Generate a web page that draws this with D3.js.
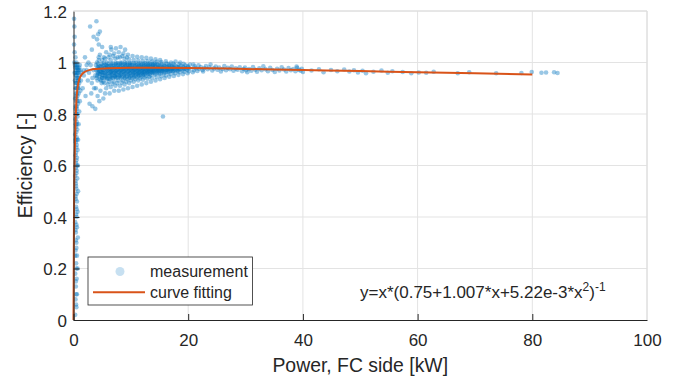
<!DOCTYPE html>
<html>
<head>
<meta charset="utf-8">
<script src="https://cdn.jsdelivr.net/npm/d3@7"></script>
<style>
  html, body { margin: 0; padding: 0; background: #ffffff; }
  svg { display: block; }
  text { font-family: "Liberation Sans", Arial, Helvetica, sans-serif; fill: #262626; }
</style>
</head>
<body>
<svg id="chart" width="686" height="379"></svg>
<script>
// ---------- data ----------
const xTicks = [0, 20, 40, 60, 80, 100];
const xTickLabels = ["0", "20", "40", "60", "80", "100"];
const yTicks = [0, 0.2, 0.4, 0.6, 0.8, 1, 1.2];
const yTickLabels = ["0", "0.2", "0.4", "0.6", "0.8", "1", "1.2"];

const xLabel = "Power, FC side [kW]";
const yLabel = "Efficiency [-]";
const legendLabels = ["measurement", "curve fitting"];

// curve fitting
const fitX = [0, 0.05, 0.1, 0.2, 0.3, 0.5, 0.7, 1.0, 1.5, 2, 3, 4, 6, 10, 20, 30, 40, 50, 60, 70, 80];
const fitY = [0, 0.25, 0.45, 0.62, 0.72, 0.85, 0.9, 0.935, 0.955, 0.964, 0.972, 0.975, 0.978, 0.98, 0.979, 0.975, 0.971, 0.967, 0.962, 0.958, 0.953];

// measurement points: low-power vertical strip
const measStrip = [
[0.3,0.02],[0.5,0.05],[0.35,0.08],[0.6,0.1],[0.45,0.1],[0.4,0.13],[0.55,0.16],[0.3,0.18],[0.7,0.2],[0.5,0.2],[0.45,0.22],[0.6,0.25],
[0.35,0.27],[0.5,0.3],[0.75,0.32],[0.4,0.31],[0.4,0.34],[0.6,0.36],[0.3,0.38],[0.55,0.4],[0.7,0.42],[0.55,0.43],[0.45,0.44],[0.6,0.46],
[0.35,0.48],[0.8,0.5],[0.5,0.51],[0.45,0.52],[0.4,0.53],[0.65,0.55],[0.3,0.56],[0.55,0.58],[0.75,0.6],[0.45,0.61],[0.5,0.62],[0.6,0.63],
[0.35,0.64],[0.7,0.66],[0.5,0.67],[0.4,0.69],[0.8,0.7],[0.6,0.7],[0.55,0.71],[0.3,0.72],[0.65,0.74],[0.45,0.75],[0.9,0.76],[0.55,0.77],
[0.35,0.78],[0.7,0.79],[0.5,0.8],[0.45,0.8],[1.0,0.81],[0.6,0.82],[0.4,0.83],[0.8,0.84],[0.5,0.85],[1.1,0.85],[0.3,0.86],[0.55,0.86],
[0.7,0.87],[0.9,0.88],[0.45,0.88],[1.2,0.89],[0.6,0.9],[0.35,0.9],[0.75,0.9],[0.8,0.91],[1.0,0.92],[0.5,0.92],[1.3,0.93],[0.25,0.93],
[0.7,0.94],[0.9,0.94],[0.55,0.94],[0.4,0.95],[1.1,0.95],[0.6,0.96],[0.2,0.96],[0.85,0.96],[0.8,0.97],[0.45,0.97],[1.0,0.98],[0.3,0.98],
[0.6,0.98],[0.65,0.99],[0.15,1.0],[0.5,1.0],[0.35,1.02],[0.2,1.04],[0.1,1.07],[0.2,1.1],[0.15,1.14],[0.1,1.17],
[0.35,0.35],[0.5,0.37],[0.45,0.41],[0.4,0.47],[0.55,0.49],[0.35,0.54],[0.5,0.57],[0.4,0.59],[0.6,0.6],[0.45,0.65],[0.55,0.68],[0.35,0.7],
[0.5,0.73],[0.6,0.76],[0.4,0.76],[0.65,0.8],[0.35,0.82],[0.55,0.83],[0.7,0.85],[0.45,0.87],[0.6,0.88],[0.85,0.9],[0.5,0.9],[0.65,0.92],
[0.4,0.92],[0.75,0.93],[0.95,0.93],[0.5,0.95],[0.7,0.96],[0.35,0.96],[0.9,0.97],[0.55,0.98],[0.75,0.98],[0.45,0.99],[0.25,0.99],[1.2,0.97],
[1.4,0.96],[1.1,0.99],[0.3,0.25],[0.4,0.15],[0.45,0.06],[0.5,0.28],
[1.6,0.9],[2.1,0.87],[2.5,0.93],[1.8,0.97],[2.8,0.84],[3.3,0.83],[3.8,0.82],[4.5,0.85],[3.1,0.88],[2.3,0.99],[2.0,1.02],[4.2,0.87],
[5.2,0.86],[3.6,0.9],[1.8,0.95],[2.3,0.97],[2.7,0.96],[3.0,0.99],[3.3,0.94],[2.6,1.0],[3.5,0.97],[3.2,0.92],
[2.9,1.14],[4.0,1.16],[4.3,1.11],[4.1,1.09],[4.4,1.07],[3.5,1.1],[4.6,1.12],[5.0,1.06],[3.2,1.05],[6.5,1.06],[15.6,0.79]
];

// measurement points: main cloud 3.5 - 20 kW
const measCore = [
[3.9,0.9],[4.2,0.93],[3.8,0.95],[4.4,0.96],[4.0,0.97],[4.3,0.98],[3.9,0.99],[4.1,1.0],[4.4,1.02],[4.0,0.94],
[4.7,0.89],[4.9,0.92],[5.0,0.94],[4.6,0.955],[4.8,0.965],[5.1,0.975],[4.7,0.985],[4.9,0.995],[5.0,1.01],[4.6,1.03],[4.8,0.93],[5.1,0.96],
[5.5,0.88],[5.7,0.9],[5.4,0.92],[5.8,0.935],[5.6,0.95],[5.5,0.96],[5.9,0.97],[5.6,0.98],[5.4,0.99],[5.8,1.0],[5.5,1.015],[5.7,1.04],[5.6,0.945],[5.9,0.985],
[6.3,0.88],[6.5,0.905],[6.2,0.925],[6.6,0.94],[6.4,0.95],[6.3,0.96],[6.7,0.97],[6.4,0.975],[6.2,0.985],[6.6,0.995],[6.5,1.01],[6.3,1.03],[6.6,1.05],[6.4,0.935],[6.5,0.965],
[7.1,0.89],[7.3,0.91],[7.0,0.925],[7.4,0.94],[7.2,0.95],[7.1,0.96],[7.5,0.97],[7.2,0.978],[7.0,0.988],[7.4,0.998],[7.3,1.015],[7.1,1.035],[7.4,1.055],[7.2,0.945],[7.3,0.965],
[7.9,0.89],[8.1,0.91],[7.8,0.93],[8.2,0.94],[8.0,0.952],[7.9,0.962],[8.3,0.97],[8.0,0.98],[7.8,0.99],[8.2,1.0],[8.1,1.02],[7.9,1.04],[8.2,1.06],[8.0,0.945],[8.1,0.968],
[8.7,0.895],[8.9,0.915],[8.6,0.93],[9.0,0.942],[8.8,0.955],[8.7,0.963],[9.1,0.972],[8.8,0.98],[8.6,0.99],[9.0,1.0],[8.9,1.015],[8.7,1.035],[9.0,1.05],[8.8,0.948],[8.9,0.975],
[9.5,0.9],[9.7,0.92],[9.4,0.935],[9.8,0.945],[9.6,0.955],[9.5,0.965],[9.9,0.972],[9.6,0.98],[9.4,0.99],[9.8,0.998],[9.7,1.012],[9.5,1.03],[9.6,0.95],[9.7,0.977],
[10.3,0.905],[10.5,0.925],[10.2,0.94],[10.6,0.95],[10.4,0.958],[10.3,0.966],[10.7,0.973],[10.4,0.98],[10.2,0.99],[10.6,0.997],[10.5,1.01],[10.3,1.025],[10.4,0.952],[10.5,0.976],
[11.1,0.91],[11.3,0.93],[11.0,0.943],[11.4,0.952],[11.2,0.96],[11.1,0.967],[11.5,0.974],[11.2,0.981],[11.0,0.989],[11.4,0.996],[11.3,1.008],[11.1,1.022],[11.2,0.955],[11.3,0.977],
[11.9,0.915],[12.1,0.933],[11.8,0.945],[12.2,0.954],[12.0,0.962],[11.9,0.968],[12.3,0.975],[12.0,0.982],[11.8,0.99],[12.2,0.996],[12.1,1.006],[11.9,1.02],[12.0,0.958],[12.1,0.978],
[12.7,0.92],[12.9,0.937],[12.6,0.948],[13.0,0.956],[12.8,0.963],[12.7,0.97],[13.1,0.976],[12.8,0.983],[12.6,0.99],[13.0,0.996],[12.9,1.005],[12.7,1.018],[12.8,0.96],[12.9,0.979],
[13.5,0.925],[13.7,0.94],[13.4,0.95],[13.8,0.958],[13.6,0.965],[13.5,0.971],[13.9,0.977],[13.6,0.983],[13.4,0.99],[13.8,0.995],[13.7,1.004],[13.5,1.015],[13.6,0.962],
[14.3,0.93],[14.5,0.944],[14.2,0.953],[14.6,0.96],[14.4,0.966],[14.3,0.972],[14.7,0.978],[14.4,0.984],[14.2,0.99],[14.6,0.995],[14.5,1.003],[14.3,1.012],
[15.1,0.935],[15.3,0.947],[15.0,0.955],[15.4,0.962],[15.2,0.968],[15.1,0.973],[15.5,0.979],[15.2,0.985],[15.0,0.99],[15.4,0.995],[15.3,1.002],[15.1,1.01],
[15.9,0.94],[16.1,0.95],[15.8,0.957],[16.2,0.964],[16.0,0.97],[15.9,0.975],[16.3,0.98],[16.0,0.985],[15.8,0.99],[16.2,0.996],[16.1,1.005],
[16.7,0.945],[16.9,0.955],[16.6,0.962],[17.0,0.968],[16.8,0.973],[16.7,0.978],[17.1,0.983],[16.8,0.988],[16.6,0.994],[17.0,1.0],
[17.5,0.948],[17.7,0.958],[17.4,0.965],[17.8,0.97],[17.6,0.975],[17.5,0.98],[17.9,0.985],[17.6,0.99],[17.4,0.996],[17.8,1.004],
[18.3,0.952],[18.5,0.962],[18.2,0.968],[18.6,0.973],[18.4,0.977],[18.3,0.982],[18.7,0.987],[18.4,0.993],[18.6,1.0],
[19.1,0.955],[19.3,0.964],[19.0,0.97],[19.4,0.975],[19.2,0.979],[19.1,0.984],[19.5,0.989],[19.2,0.995],
[19.9,0.958],[20.1,0.966],[19.8,0.972],[20.2,0.977],[20.0,0.981],[19.9,0.986],[20.3,0.992],
[4.5,0.945],[4.3,0.955],[4.6,0.965],[4.4,0.975],[4.5,0.985],[4.3,0.995],[4.6,0.935],[4.4,1.01],
[5.3,0.94],[5.1,0.95],[5.3,0.96],[5.2,0.97],[5.4,0.978],[5.1,0.988],[5.3,0.998],[5.2,0.925],[5.3,1.02],
[6.1,0.938],[5.9,0.948],[6.1,0.958],[6.0,0.968],[6.2,0.976],[5.9,0.986],[6.1,0.996],[6.0,0.915],[6.1,1.02],
[6.9,0.94],[6.7,0.95],[6.9,0.96],[6.8,0.968],[7.0,0.977],[6.7,0.987],[6.9,0.997],[6.8,0.918],[6.9,1.025],
[7.7,0.942],[7.5,0.952],[7.7,0.962],[7.6,0.97],[7.8,0.978],[7.5,0.988],[7.7,0.998],[7.6,0.92],[7.7,1.02],
[8.5,0.944],[8.3,0.954],[8.5,0.963],[8.4,0.971],[8.6,0.979],[8.3,0.989],[8.5,0.999],[8.4,0.922],[8.5,1.025],
[9.3,0.946],[9.1,0.955],[9.3,0.964],[9.2,0.972],[9.4,0.98],[9.1,0.989],[9.3,0.999],[9.2,0.925],[9.3,1.02],
[10.1,0.948],[9.9,0.957],[10.1,0.965],[10.0,0.973],[10.2,0.98],[9.9,0.99],[10.1,0.998],[10.0,0.93],
[10.9,0.95],[10.7,0.958],[10.9,0.966],[10.8,0.974],[11.0,0.981],[10.7,0.99],[10.9,0.998],[10.8,0.935],
[11.7,0.952],[11.5,0.96],[11.7,0.967],[11.6,0.975],[11.8,0.982],[11.5,0.99],[11.7,0.997],[11.6,0.938],
[12.5,0.954],[12.3,0.961],[12.5,0.968],[12.4,0.975],[12.6,0.982],[12.3,0.99],[12.5,0.997],[12.4,0.942],
[13.3,0.956],[13.1,0.963],[13.3,0.969],[13.2,0.976],[13.4,0.983],[13.1,0.99],[13.3,0.996],[13.2,0.945],
[14.1,0.958],[13.9,0.964],[14.1,0.97],[14.0,0.977],[14.2,0.983],[13.9,0.99],[14.1,0.996],
[14.9,0.96],[14.7,0.966],[14.9,0.972],[14.8,0.978],[15.0,0.984],[14.7,0.99],
[15.7,0.962],[15.5,0.968],[15.7,0.974],[15.6,0.98],[15.8,0.986],
[16.5,0.965],[16.3,0.97],[16.5,0.976],[16.4,0.981],[16.6,0.987],
[17.3,0.967],[17.2,0.973],[17.3,0.979],[17.2,0.985],
[18.1,0.969],[18.0,0.975],[18.1,0.981],
[4.2,0.962],[4.1,0.948],[4.3,0.972],[4.2,0.982],
[5.0,0.952],[4.9,0.962],[5.0,0.972],[4.9,0.982],[5.0,0.942],
[5.8,0.955],[5.7,0.965],[5.8,0.975],[5.7,0.99],[5.8,0.94],
[6.6,0.955],[6.5,0.945],[6.6,0.978],[6.5,0.988],[6.6,0.963],
[7.4,0.956],[7.3,0.946],[7.4,0.968],[7.3,0.983],[7.4,0.993],
[8.2,0.958],[8.1,0.948],[8.2,0.975],[8.1,0.985],[8.2,0.995],
[9.0,0.958],[8.9,0.968],[9.0,0.985],[8.9,0.94],[9.0,0.993],
[9.8,0.96],[9.7,0.968],[9.8,0.985],[9.7,0.94],[9.8,0.992],
[10.6,0.962],[10.5,0.97],[10.6,0.985],[10.5,0.943],
[11.4,0.962],[11.3,0.97],[11.4,0.985],[11.3,0.947],
[12.2,0.964],[12.1,0.971],[12.2,0.986],[12.1,0.95],
[13.0,0.966],[12.9,0.972],[13.0,0.986],
[13.8,0.968],[13.7,0.974],[13.8,0.987],
[14.6,0.969],[14.5,0.975],[15.4,0.97],[15.3,0.976],[16.2,0.972],[17.0,0.974],[18.8,0.976],[19.6,0.977]
];

// measurement points: high-power tail
const measTail = [
[20.8,0.962],[21.0,0.97],[21.3,0.978],[21.1,0.985],[20.9,0.992],[21.6,0.967],[21.9,0.975],[22.2,0.982],[21.8,0.989],[22.5,0.971],
[22.8,0.978],[23.1,0.986],[22.6,0.965],[23.4,0.974],[23.7,0.981],[23.9,0.992],[24.2,0.969],[24.5,0.977],[24.8,0.984],[25.1,0.972],
[25.4,0.98],[25.7,0.965],[26.0,0.975],[26.3,0.986],[26.6,0.97],[26.9,0.979],[27.3,0.974],[27.6,0.984],[27.9,0.968],[28.3,0.977],
[28.6,0.972],[29.0,0.981],[29.4,0.966],[29.7,0.975],[30.1,0.97],[30.3,0.962],[29.9,0.98],
[30.6,0.975],[31.0,0.968],[31.3,0.982],[31.7,0.972],[32.0,0.964],[32.4,0.977],[32.8,0.97],[33.1,0.985],[33.5,0.974],[33.9,0.966],
[34.3,0.979],[34.7,0.971],[35.1,0.963],[35.5,0.976],[35.9,0.969],[36.3,0.981],[36.7,0.973],[37.1,0.965],[37.5,0.978],[37.9,0.97],
[38.3,0.975],[38.7,0.966],[39.0,0.979],[39.3,0.972],[39.6,0.968],[39.8,0.976],[40.0,0.963],[38.9,0.984],
[41.5,0.969],[42.8,0.974],[43.6,0.962],[44.9,0.971],[46.0,0.966],[47.2,0.973],[48.1,0.965],[48.9,0.97],[49.6,0.961],[50.4,0.968],
[51.0,0.958],[52.3,0.964],[53.7,0.969],[54.8,0.96],[55.6,0.966],[57.4,0.963],[58.9,0.958],[60.2,0.961],[61.5,0.96],[62.8,0.964],
[67.0,0.958],[69.0,0.962],[73.7,0.958],[78.1,0.959],[79.9,0.963],[81.6,0.96],[82.4,0.961],[83.8,0.962],[84.4,0.959]
];

// ---------- layout ----------
const W = 686, H = 379;
const plot = { left: 73.5, right: 647, top: 11, bottom: 320 };
const blue = "#0072BD", orange = "#D95319", axisCol = "#262626", gridCol = "#e3e3e3";

const svg = d3.select("#chart");
svg.append("rect").attr("width", W).attr("height", H).attr("fill", "#ffffff");

const x = d3.scaleLinear().domain([0, 100]).range([plot.left, plot.right]);
const y = d3.scaleLinear().domain([0, 1.2]).range([plot.bottom, plot.top]);

// grid
const grid = svg.append("g");
grid.selectAll("line.gx").data(xTicks.slice(1)).join("line")
  .attr("x1", d => x(d)).attr("x2", d => x(d))
  .attr("y1", plot.top).attr("y2", plot.bottom)
  .attr("stroke", gridCol).attr("stroke-width", 1);
grid.selectAll("line.gy").data(yTicks.slice(1)).join("line")
  .attr("y1", d => y(d)).attr("y2", d => y(d))
  .attr("x1", plot.left).attr("x2", plot.right)
  .attr("stroke", gridCol).attr("stroke-width", 1);

// scatter
const allMeas = measStrip.concat(measCore, measTail);
svg.append("g").selectAll("circle").data(allMeas).join("circle")
  .attr("cx", d => x(d[0])).attr("cy", d => y(d[1]))
  .attr("r", 2.3)
  .attr("fill", blue).attr("fill-opacity", 0.4);

// fit line
const fitData = fitX.map((v, i) => [v, fitY[i]]);
svg.append("path").datum(fitData)
  .attr("d", d3.line().x(d => x(d[0])).y(d => y(d[1])).curve(d3.curveMonotoneX))
  .attr("fill", "none").attr("stroke", orange).attr("stroke-width", 2);

// axes
const xAxis = svg.append("g").attr("transform", `translate(0,${plot.bottom})`)
  .call(d3.axisBottom(x).tickValues(xTicks).tickFormat((d, i) => xTickLabels[i]).tickSizeInner(-6).tickSizeOuter(0).tickPadding(0));
xAxis.select(".domain").attr("stroke", axisCol);
xAxis.selectAll(".tick line").attr("stroke", axisCol);
xAxis.selectAll(".tick text").attr("y", 26).attr("dy", 0).attr("font-size", 17)
  .style("font-family", '"Liberation Sans", Arial, sans-serif').attr("fill", axisCol);

const yAxis = svg.append("g").attr("transform", `translate(${plot.left},0)`)
  .call(d3.axisLeft(y).tickValues(yTicks).tickFormat((d, i) => yTickLabels[i]).tickSizeInner(-6).tickSizeOuter(0).tickPadding(6.5));
yAxis.select(".domain").attr("stroke", axisCol);
yAxis.selectAll(".tick line").attr("stroke", axisCol);
yAxis.selectAll(".tick text").attr("dy", "0.36em").attr("font-size", 17)
  .style("font-family", '"Liberation Sans", Arial, sans-serif').attr("fill", axisCol);
xAxis.selectAll(".tick").filter(d => d === 100).select("line").remove();
yAxis.selectAll(".tick").filter(d => d === 1.2).select("line").remove();

// top/right box
svg.append("line").attr("x1", plot.left).attr("x2", plot.right).attr("y1", plot.top).attr("y2", plot.top)
  .attr("stroke", "#dcdcdc");
svg.append("line").attr("x1", plot.right).attr("x2", plot.right).attr("y1", plot.top).attr("y2", plot.bottom)
  .attr("stroke", "#dcdcdc");

// axis titles
svg.append("text").attr("x", (plot.left + plot.right) / 2).attr("y", 372)
  .attr("text-anchor", "middle").attr("font-size", 19.4).text(xLabel);
svg.append("text").attr("transform", `translate(32,${(plot.top + plot.bottom) / 2}) rotate(-90)`)
  .attr("text-anchor", "middle").attr("font-size", 19.4).text(yLabel);

// formula
const f = svg.append("text").attr("x", 360).attr("y", 298).attr("font-size", 17);
f.append("tspan").text("y=x*(0.75+1.007*x+5.22e-3*x");
f.append("tspan").attr("dy", -7).attr("font-size", 12).text("2");
f.append("tspan").attr("dy", 7).text(")");
f.append("tspan").attr("dy", -7).attr("font-size", 12).text("-1");

// legend
const lg = svg.append("g");
lg.append("rect").attr("x", 88).attr("y", 257).attr("width", 164.5).attr("height", 48)
  .attr("fill", "#ffffff").attr("stroke", axisCol).attr("stroke-width", 0.8);
lg.append("circle").attr("cx", 120).attr("cy", 271.5).attr("r", 4.5)
  .attr("fill", blue).attr("fill-opacity", 0.22);
lg.append("line").attr("x1", 93).attr("x2", 145).attr("y1", 292.3).attr("y2", 292.3)
  .attr("stroke", orange).attr("stroke-width", 2);
lg.append("text").attr("x", 150).attr("y", 277).attr("font-size", 16).text(legendLabels[0]);
lg.append("text").attr("x", 150).attr("y", 297.5).attr("font-size", 16).text(legendLabels[1]);
</script>
</body>
</html>
